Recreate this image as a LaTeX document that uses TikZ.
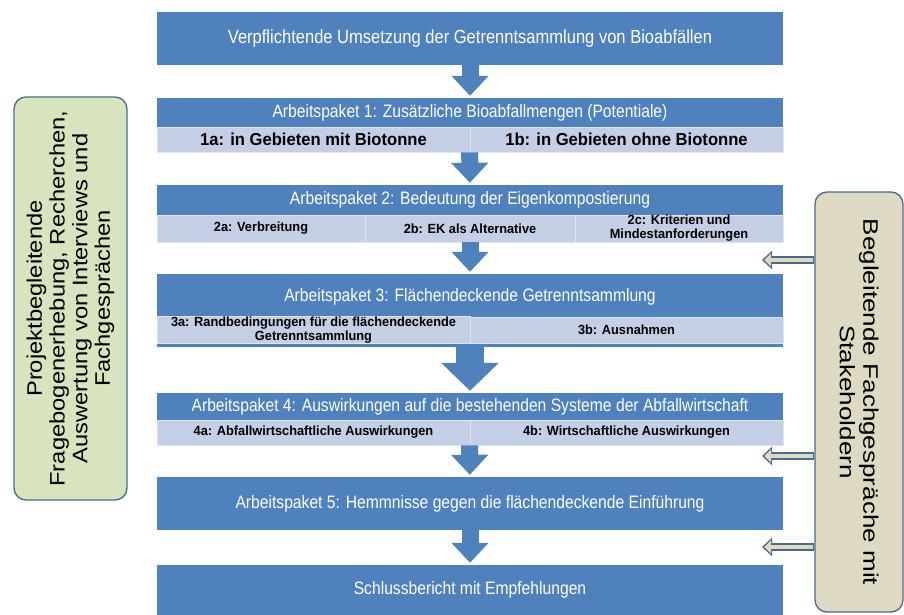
\documentclass[tikz,border=0pt]{standalone}
\usepackage{fontspec}
\setmainfont{Liberation Sans}
\newfontfamily\narrowfont[FakeStretch=0.87]{Liberation Sans}
\newfontfamily\subfont[FakeStretch=0.96]{Liberation Sans}
\newfontfamily\widefont[FakeStretch=1.24]{Liberation Sans}
\newfontfamily\halfwidefont[FakeStretch=1.13]{Liberation Sans}
\usetikzlibrary{arrows.meta}
\definecolor{apblue}{HTML}{4F81BD}
\definecolor{subblue}{HTML}{C4CEE4}
\definecolor{sidegreen}{HTML}{D7E4BD}
\definecolor{sidesand}{HTML}{DDD9C3}
\definecolor{sideedge}{HTML}{4A6A8C}

\begin{document}
\begin{tikzpicture}[x=1pt,y=-1pt,
  head/.style={fill=apblue,text=white,minimum width=626pt,inner sep=0pt,
    font=\narrowfont\fontsize{18}{20}\selectfont},
  sub/.style={fill=subblue,draw=white!45!subblue,line width=0.6pt,inner sep=0pt,
    align=center,font=\subfont\bfseries\fontsize{13.3}{14}\selectfont},
  bigsub/.style={sub,font=\subfont\bfseries\fontsize{17.3}{19}\selectfont},
  down/.style={draw=apblue,line width=17pt,-{Triangle[width=36pt,length=20pt]},shorten >=2pt},
  bigdown/.style={draw=apblue,line width=28pt,-{Triangle[width=56pt,length=28pt]},shorten >=2pt},
  side/.style={draw=sideedge,line width=1.3pt,rounded corners=12pt,inner sep=0pt,
    align=center,font=\widefont\fontsize{21}{23.5}\selectfont},
  hollowout/.style={draw=sideedge,line width=7.5pt,-{Triangle[width=18pt,length=10pt]}},
  hollowin/.style={draw=sidesand,line width=4.5pt,-{Triangle[width=13pt,length=7pt]},
    shorten >=2.2pt,shorten <=1pt}]
\useasboundingbox (0,0) rectangle (904,615);

\node[head,minimum height=53pt,font=\narrowfont\fontsize{19}{21}\selectfont] (start) at (470,38.5)
  {Verpflichtende Umsetzung der Getrenntsammlung von Bioabfällen};

\node[head,minimum height=29pt] (ap1) at (470,112.5)
  {Arbeitspaket 1: Zusätzliche Bioabfallmengen (Potentiale)};
\node[bigsub,minimum width=313pt,minimum height=25pt] (ap1a) at (313.5,139.5)
  {1a: in Gebieten mit Biotonne};
\node[bigsub,minimum width=313pt,minimum height=25pt] (ap1b) at (626.5,139.5)
  {1b: in Gebieten ohne Biotonne};

\node[head,minimum height=30pt] (ap2) at (470,200)
  {Arbeitspaket 2: Bedeutung der Eigenkompostierung};
\node[sub,minimum width=208pt,minimum height=27pt] (ap2a) at (261,228.5) {2a: Verbreitung};
\node[sub,minimum width=210pt,minimum height=27pt] (ap2b) at (470,228.5) {2b: EK als Alternative};
\node[sub,minimum width=208pt,minimum height=27pt] (ap2c) at (679,228.5)
  {2c: Kriterien und\\Mindestanforderungen};

\node[head,minimum height=73pt] (ap3) at (470,310.5) {};
\node[text=white,font=\narrowfont\fontsize{18}{20}\selectfont] (ap3t) at (470,297)
  {Arbeitspaket 3: Flächendeckende Getrenntsammlung};
\node[sub,minimum width=313pt,minimum height=26pt] (ap3a) at (313.5,330)
  {3a: Randbedingungen für die flächendeckende\\Getrenntsammlung};
\node[sub,minimum width=313pt,minimum height=26pt] (ap3b) at (626.5,330) {3b: Ausnahmen};

\node[head,minimum height=27pt] (ap4) at (470,406.5)
  {Arbeitspaket 4: Auswirkungen auf die bestehenden Systeme der Abfallwirtschaft};
\node[sub,minimum width=313pt,minimum height=25pt] (ap4a) at (313.5,432.5)
  {4a: Abfallwirtschaftliche Auswirkungen};
\node[sub,minimum width=313pt,minimum height=25pt] (ap4b) at (626.5,432.5)
  {4b: Wirtschaftliche Auswirkungen};

\node[head,minimum height=53pt] (ap5) at (470,503.5)
  {Arbeitspaket 5: Hemmnisse gegen die flächendeckende Einführung};
\node[head,minimum height=50pt] (report) at (470,590) {Schlussbericht mit Empfehlungen};

\draw[down] (start) -- (ap1);
\draw[down] (ap1b.south west) -- (ap2);
\draw[down] (ap2b) -- (ap3);
\draw[bigdown] (ap3) -- (ap4);
\draw[down] (ap4b.south west) -- (ap5);
\draw[down] (ap5) -- (report);

% begleitende Arbeiten
\node[side,fill=sidegreen,rotate=90,minimum width=403pt,minimum height=113pt,
  font=\halfwidefont\fontsize{21}{22.7}\selectfont] (survey) at (70.5,298.5)
  {Projektbegleitende\\Fragebogenerhebung, Recherchen,\\Auswertung von Interviews und\\Fachgesprächen};
\node[side,fill=sidesand,rotate=-90,minimum width=420pt,minimum height=88pt] (stake) at (859,402)
  {Begleitende Fachgespräche mit\\Stakeholdern};

\coordinate (in3) at (762,260);
\coordinate (in5) at (762,456);
\coordinate (in6) at (762,547);
\foreach \c in {in3,in5,in6} {
  \draw[hollowout] (stake.south |- \c) -- (\c);
  \draw[hollowin] (stake.south |- \c) -- (\c);
}
\end{tikzpicture}
\end{document}
